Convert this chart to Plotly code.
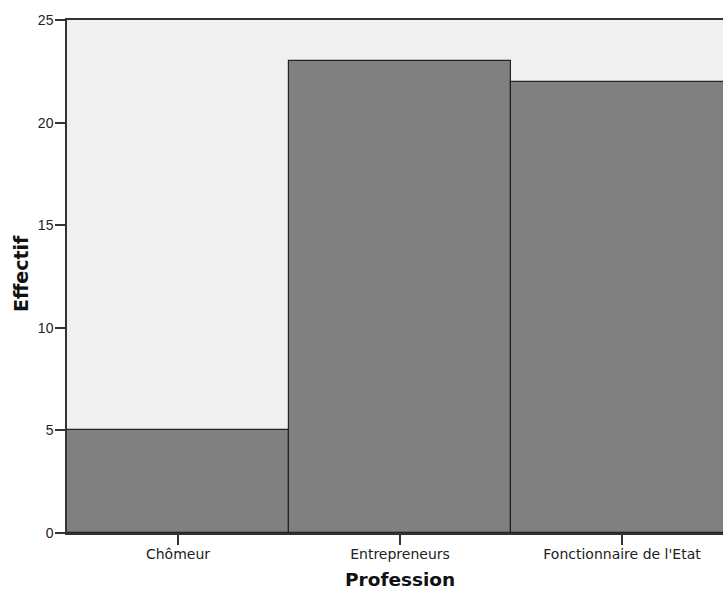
import plotly.graph_objects as go

categories = ["Chômeur", "Entrepreneurs", "Fonctionnaire de l'Etat"]
counts = [5, 23, 22]
y_ticks = [0, 5, 10, 15, 20, 25]
x_title = "Profession"
y_title = "Effectif"

fig = go.Figure()
fig.add_trace(go.Bar(
    x=categories, y=counts, width=1.0,
    marker=dict(color="#808080", line=dict(color="#222222", width=1.2)),
    hoverinfo="skip",
))

fig.update_layout(
    width=723, height=590,
    margin=dict(l=67, r=0, t=20, b=57),
    paper_bgcolor="white", plot_bgcolor="#F0F0F0",
    showlegend=False, bargap=0,
    font=dict(family="DejaVu Sans", size=14, color="#222222"),
    annotations=[
        dict(text="<b>%s</b>" % x_title, xref="paper", yref="paper", x=0.507, y=-0.091,
             xanchor="center", yanchor="middle", showarrow=False,
             font=dict(family="DejaVu Sans", size=18.5, color="#111111")),
        dict(text="<b>%s</b>" % y_title, xref="paper", yref="paper", x=-0.070, y=0.505,
             xanchor="center", yanchor="middle", showarrow=False, textangle=-90,
             font=dict(family="DejaVu Sans", size=19, color="#111111")),
    ],
)
fig.update_xaxes(
    type="category", range=[-0.5, 2.455],
    showline=True, linecolor="#333333", linewidth=1.5, mirror=True,
    ticks="outside", ticklen=10, tickcolor="#333333", tickwidth=1.5,
    showgrid=False, zeroline=False, ticklabelstandoff=-3,
    tickfont=dict(family="DejaVu Sans", size=14, color="#222222"),
)
fig.update_yaxes(
    range=[0, 25], tickvals=y_ticks,
    showline=True, linecolor="#333333", linewidth=1.5,
    ticks="outside", ticklen=10, tickcolor="#333333", tickwidth=1.5,
    showgrid=False, zeroline=False, ticklabelstandoff=-1,
    tickfont=dict(family="Liberation Sans", size=14, color="#222222"),
)

fig.write_html("out.html", config={"displayModeBar": False},
               post_script="document.body.style.margin='0';document.body.style.padding='0';")
